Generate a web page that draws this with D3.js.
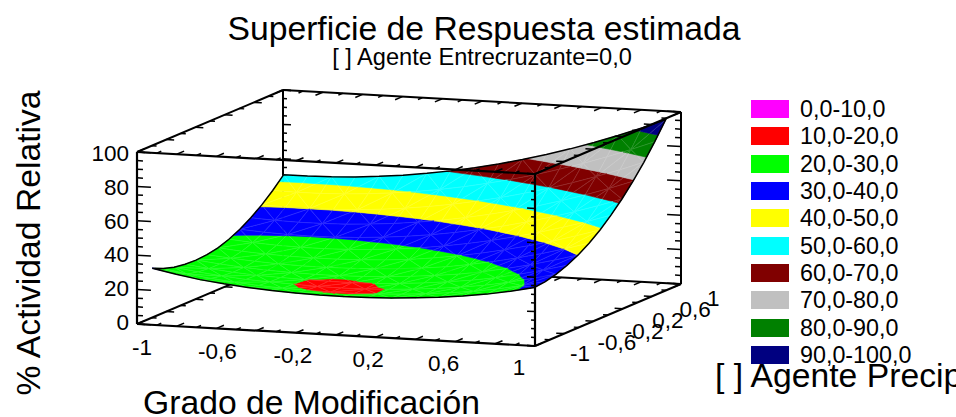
<!DOCTYPE html>
<html>
<head>
<meta charset="utf-8">
<script src="https://cdn.jsdelivr.net/npm/d3@7"></script>
<style>
  html, body { margin: 0; padding: 0; background: #fff; overflow: hidden; }
  svg { display: block; }
  text { font-family: "Liberation Sans", Arial, sans-serif; fill: #000; }
</style>
</head>
<body>
<svg id="chart" width="956" height="417"></svg>
<script>
var titleText = "Superficie de Respuesta estimada";
var subtitleText = "[ ] Agente Entrecruzante=0,0";
var xTitle = "Grado de Modificación";
var yTitle = "[ ] Agente Precipitante";
var zTitle = "% Actividad Relativa";

var axisLabels = ["-1", "-0,6", "-0,2", "0,2", "0,6", "1"];
var axisValues = [-1, -0.6, -0.2, 0.2, 0.6, 1];
var zTicks = [0, 20, 40, 60, 80, 100];

var bandLabels = ["0,0-10,0", "10,0-20,0", "20,0-30,0", "30,0-40,0", "40,0-50,0", "50,0-60,0", "60,0-70,0", "70,0-80,0", "80,0-90,0", "90,0-100,0"];
var bandLows = [0, 10, 20, 30, 40, 50, 60, 70, 80, 90];
var bandColors = ["#ff00ff", "#ff0000", "#00ff00", "#0000ff", "#ffff00", "#00ffff", "#800000", "#c0c0c0", "#008000", "#000080"];

// surface, one row per y value (front to back)
var xGrid = [-0.96, -0.84, -0.72, -0.6, -0.48, -0.36, -0.24, -0.12, 0, 0.12, 0.24, 0.36, 0.48, 0.6, 0.72, 0.84, 0.96];
var yGrid = [-0.9, -0.75, -0.6, -0.45, -0.3, -0.15, 0, 0.15, 0.3, 0.45, 0.6, 0.75, 0.9];
var zRow0 = [30.88, 28.14, 25.78, 24.13, 22.81, 21.77, 21.06, 20.64, 20.54, 20.76, 21.27, 22.10, 23.23, 24.68, 26.57, 29.06, 31.94];
var zRow1 = [28.03, 25.56, 23.80, 22.34, 21.19, 20.40, 20.00, 19.70, 19.68, 20.07, 20.78, 21.78, 23.12, 24.74, 26.87, 29.59, 32.69];
var zRow2 = [26.03, 24.10, 22.52, 21.26, 20.60, 20.00, 19.50, 19.30, 19.51, 20.10, 20.98, 22.18, 23.69, 25.50, 28.02, 30.96, 34.29];
var zRow3 = [25.05, 23.34, 21.95, 20.95, 20.40, 20.05, 19.75, 19.70, 20.06, 20.83, 21.90, 23.28, 24.98, 27.23, 30.03, 33.20, 36.75];
var zRow4 = [24.79, 23.28, 22.07, 21.17, 20.59, 20.29, 20.32, 20.65, 21.30, 22.25, 23.51, 25.07, 27.20, 29.85, 32.88, 36.27, 40.05];
var zRow5 = [25.26, 23.93, 22.90, 22.19, 21.78, 21.68, 21.90, 22.42, 23.24, 24.38, 25.83, 27.95, 30.47, 33.34, 36.59, 40.21, 44.21];
var zRow6 = [26.55, 25.27, 24.43, 23.90, 23.69, 23.76, 24.17, 24.87, 25.90, 27.51, 29.48, 31.83, 34.56, 37.66, 41.14, 44.98, 49.21];
var zRow7 = [28.81, 27.64, 26.85, 26.43, 26.39, 26.72, 27.43, 28.51, 29.96, 31.79, 33.99, 36.56, 39.53, 42.85, 46.55, 50.62, 55.07];
var zRow8 = [31.91, 30.97, 30.40, 30.21, 30.40, 30.94, 31.88, 33.18, 34.86, 36.92, 39.34, 42.14, 45.32, 48.87, 52.80, 57.09, 61.77];
var zRow9 = [35.87, 35.15, 34.81, 34.84, 35.25, 36.03, 37.19, 38.72, 40.62, 42.90, 45.55, 48.57, 51.99, 55.76, 59.91, 64.43, 69.33];
var zRow10 = [40.67, 40.18, 40.06, 40.32, 40.96, 41.95, 43.34, 45.09, 47.22, 49.73, 52.60, 55.85, 59.48, 63.48, 67.86, 72.60, 77.73];
var zRow11 = [46.33, 46.06, 46.17, 46.65, 47.51, 48.74, 50.35, 52.33, 54.68, 57.41, 60.51, 63.98, 67.85, 72.07, 76.67, 81.64, 86.99];
var zRow12 = [52.84, 52.80, 53.13, 53.84, 54.93, 56.37, 58.21, 60.41, 62.99, 65.95, 69.27, 72.97, 77.05, 81.50, 86.33, 91.52, 97.10];
var zRows = [zRow0, zRow1, zRow2, zRow3, zRow4, zRow5, zRow6, zRow7, zRow8, zRow9, zRow10, zRow11, zRow12];

var svg = d3.select("#chart");

// The box is an oblique projection, so each data axis gets a pair of screen scales
var xToSx = d3.scaleLinear().domain([-1, 1]).range([0, 398]);
var xToSy = d3.scaleLinear().domain([-1, 1]).range([0, 22]);
var yToSx = d3.scaleLinear().domain([-1, 1]).range([0, 146]);
var yToSy = d3.scaleLinear().domain([-1, 1]).range([0, -62]);
var zToSy = d3.scaleLinear().domain([0, 100]).range([0, -172]);
var originX = 137, originY = 324;

function project(x, y, z) {
  return [originX + xToSx(x) + yToSx(y), originY + xToSy(x) + yToSy(y) + zToSy(z)];
}

var line = d3.line();

function drawEdge(group, from, to, width) {
  group.append("path")
    .attr("d", line([project.apply(null, from), project.apply(null, to)]))
    .attr("fill", "none")
    .attr("stroke", "#000")
    .attr("stroke-width", width);
}

function drawTick(group, at, dir, len) {
  var a = project(at[0], at[1], at[2]);
  var b = project(at[0] + dir[0] * len, at[1] + dir[1] * len, at[2]);
  group.append("path").attr("d", line([a, b])).attr("stroke", "#000").attr("stroke-width", 1.5);
}

// ticks along one x edge at a given y,z
function xEdgeTicks(group, y, z, dir) {
  d3.range(-10, 11).forEach(function(i) {
    drawTick(group, [i / 10, y, z], [0, dir], i % 2 == 0 ? 0.1 : 0.06);
  });
}

function yEdgeTicks(group, x, z, dir) {
  d3.range(-5, 6).forEach(function(i) {
    drawTick(group, [x, i / 5, z], [dir, 0], i % 2 != 0 ? 0.04 : 0.025);
  });
}

function zEdgeTicks(group, x, y, dir, major, minor) {
  d3.range(0, 101, 5).forEach(function(z) {
    drawTick(group, [x, y, z], [dir, 0], z % 20 == 0 ? major : minor);
  });
}

// ---- back of the box, hidden by the surface
var back = svg.append("g");
drawEdge(back, [-1, -1, 0], [-1, 1, 0], 2);
drawEdge(back, [-1, 1, 0], [1, 1, 0], 2);
drawEdge(back, [-1, 1, 0], [-1, 1, 100], 2);
drawEdge(back, [-1, -1, 100], [-1, 1, 100], 2);
drawEdge(back, [-1, 1, 100], [1, 1, 100], 2);
drawEdge(back, [1, 1, 100], [1, 1, 0], 2);
drawEdge(back, [1, -1, 0], [1, 1, 0], 2);
xEdgeTicks(back, 1, 0, -1);
xEdgeTicks(back, 1, 100, -1);
yEdgeTicks(back, -1, 0, 1);
yEdgeTicks(back, -1, 100, 1);
yEdgeTicks(back, 1, 0, -1);
zEdgeTicks(back, -1, 1, 1, 0.04, 0.02);
zEdgeTicks(back, 1, 1, -1, 0.07, 0.03);

// ---- surface, cut into colour bands cell by cell
function cut(poly, level, keepAbove) {
  var out = [];
  poly.forEach(function(p, i) {
    var q = poly[(i + 1) % poly.length];
    var pIn = keepAbove ? p[2] >= level : p[2] <= level;
    var qIn = keepAbove ? q[2] >= level : q[2] <= level;
    if (pIn) out.push(p);
    if (pIn != qIn) {
      var t = (level - p[2]) / (q[2] - p[2]);
      out.push([p[0] + t * (q[0] - p[0]), p[1] + t * (q[1] - p[1]), level]);
    }
  });
  return out;
}

function vertex(i, j) {
  return [xGrid[i], yGrid[j], zRows[j][i]];
}

var surface = svg.append("g");
var closedLine = d3.line().curve(d3.curveLinearClosed);

function cellTriangles(i, j) {
  var a = vertex(i, j), b = vertex(i + 1, j), c = vertex(i + 1, j + 1), d = vertex(i, j + 1);
  if ((i + j) % 2 == 0) return [[a, b, c], [a, c, d]];
  return [[a, b, d], [b, c, d]];
}

// back rows first so nearer cells paint over farther ones
d3.range(yGrid.length - 2, -1, -1).forEach(function(j) {
  d3.range(0, xGrid.length - 1).forEach(function(i) {
    cellTriangles(i, j).forEach(function(tri) {
      bandLows.forEach(function(low, b) {
        var poly = cut(cut(tri, low, true), low + 10, false);
        if (poly.length < 3) return;
        surface.append("path")
          .attr("d", closedLine(poly.map(function(p) { return project(p[0], p[1], p[2]); })))
          .attr("fill", bandColors[b])
          .attr("stroke", bandColors[b])
          .attr("stroke-width", 0.6);
      });
      surface.append("path")
        .attr("d", closedLine(tri.map(function(p) { return project(p[0], p[1], p[2]); })))
        .attr("fill", "none")
        .attr("stroke", "#fff")
        .attr("stroke-opacity", 0.16)
        .attr("stroke-width", 0.7);
    });
  });
});

// black outline around the surface
var rim = [];
xGrid.forEach(function(x, i) { rim.push(vertex(i, 0)); });
yGrid.forEach(function(y, j) { rim.push(vertex(xGrid.length - 1, j)); });
xGrid.slice().reverse().forEach(function(x, k) { rim.push(vertex(xGrid.length - 1 - k, yGrid.length - 1)); });
yGrid.slice().reverse().forEach(function(y, k) { rim.push(vertex(0, yGrid.length - 1 - k)); });
surface.append("path")
  .attr("d", closedLine(rim.map(function(p) { return project(p[0], p[1], p[2]); })))
  .attr("fill", "none")
  .attr("stroke", "#000")
  .attr("stroke-width", 1.5);

// ---- front of the box, drawn over the surface
var front = svg.append("g");
drawEdge(front, [-1, -1, 0], [-1, -1, 100], 2.2);
drawEdge(front, [-1, -1, 0], [1, -1, 0], 2.2);
drawEdge(front, [1, -1, 0], [1, -1, 100], 2.2);
drawEdge(front, [-1, -1, 100], [1, -1, 100], 2.2);
drawEdge(front, [1, -1, 100], [1, 1, 100], 2.2);
xEdgeTicks(front, -1, 0, 1);
xEdgeTicks(front, -1, 100, 1);
yEdgeTicks(front, 1, 100, -1);
zEdgeTicks(front, -1, -1, 1, 0.07, 0.03);
zEdgeTicks(front, 1, -1, -1, 0.04, 0.02);

// ---- axis labels
var xLabelX = d3.scaleLinear().domain([-1, 1]).range([142, 519]);
var xLabelY = d3.scaleLinear().domain([-1, 1]).range([355, 375]);
var yLabelX = d3.scaleLinear().domain([-1, 1]).range([570, 707]);
var yLabelY = d3.scaleLinear().domain([-1, 1]).range([361, 306]);
var zLabelY = d3.scaleLinear().domain([0, 100]).range([330, 161]);

svg.append("g").selectAll("text").data(axisValues).join("text")
  .attr("x", function(d) { return xLabelX(d); })
  .attr("y", function(d) { return xLabelY(d); })
  .attr("text-anchor", "middle")
  .attr("font-size", 22.5)
  .text(function(d, i) { return axisLabels[i]; });

svg.append("g").selectAll("text").data(axisValues).join("text")
  .attr("x", function(d) { return yLabelX(d); })
  .attr("y", function(d) { return yLabelY(d); })
  .attr("font-size", 22.5)
  .text(function(d, i) { return axisLabels[i]; });

svg.append("g").selectAll("text").data(zTicks).join("text")
  .attr("x", 129)
  .attr("y", function(d) { return zLabelY(d); })
  .attr("text-anchor", "end")
  .attr("font-size", 22.5)
  .text(function(d) { return d; });

// ---- legend
var legendY = d3.scaleLinear().domain([0, 9]).rangeRound([100, 346]);
var legend = svg.append("g").selectAll("g").data(bandLabels).join("g");
legend.append("rect")
  .attr("x", 751)
  .attr("y", function(d, i) { return legendY(i); })
  .attr("width", 38)
  .attr("height", 18)
  .attr("fill", function(d, i) { return bandColors[i]; });
legend.append("text")
  .attr("x", 800)
  .attr("y", function(d, i) { return legendY(i) + 17; })
  .attr("font-size", 23.3)
  .text(function(d) { return d; });

// ---- titles
svg.append("text").attr("x", 484).attr("y", 40).attr("text-anchor", "middle").attr("font-size", 33.7).text(titleText);
svg.append("text").attr("x", 482).attr("y", 65).attr("text-anchor", "middle").attr("font-size", 23.6).text(subtitleText);
svg.append("text").attr("x", 143).attr("y", 414).attr("font-size", 33.7).text(xTitle);
svg.append("text").attr("x", 715).attr("y", 387).attr("font-size", 33.7).text(yTitle);
svg.append("text")
  .attr("transform", "translate(40,243) rotate(-90)")
  .attr("text-anchor", "middle")
  .attr("font-size", 33.7)
  .text(zTitle);
</script>
</body>
</html>
